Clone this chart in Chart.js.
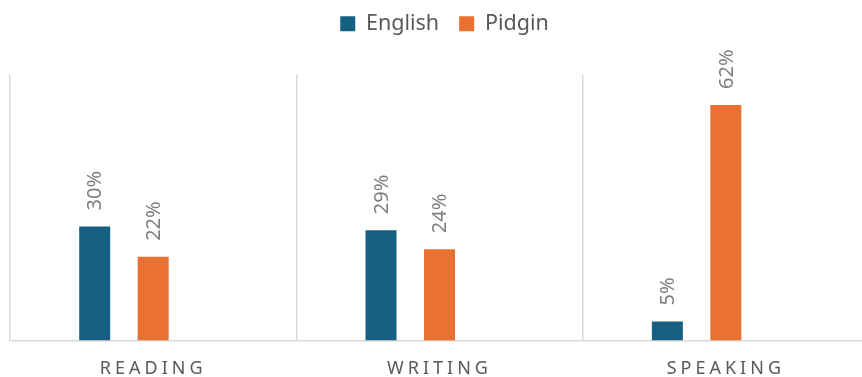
<!DOCTYPE html>
<html>
<head>
<meta charset="utf-8">
<script src="https://cdn.jsdelivr.net/npm/chart.js@4/dist/chart.umd.min.js"></script>
<style>
    html, body { margin: 0; padding: 0; background: #fff; overflow: hidden; }
    #wrap { width: 869px; height: 377px; position: relative; }
</style>
</head>
<body>
<div id="wrap"><canvas id="skillsChart"></canvas></div>
<script>
        const categories = ['READING', 'WRITING', 'SPEAKING'];
        const english = [30, 29, 5];
        const pidgin = [22, 24, 62];
        // empty third series in the source chart, keeps the bars left of centre
        const emptySeries = [null, null, null];

        const axisGray = '#595959';
        const labelGray = '#7f7f7f';
        const gridColor = '#d9d9d9';
        const fontFamily = '"Noto Sans", "Liberation Sans", sans-serif';

        // value labels rotated above the bars
        const barLabels = {
            id: 'barLabels',
            afterDatasetsDraw(chart) {
                const ctx = chart.ctx;
                chart.data.datasets.forEach((ds, di) => {
                    const meta = chart.getDatasetMeta(di);
                    meta.data.forEach((bar, i) => {
                        const v = ds.data[i];
                        if (v === null || v === undefined) return;
                        ctx.save();
                        ctx.translate(bar.x + 1, bar.y - 16);
                        ctx.rotate(-Math.PI / 2);
                        ctx.font = '20px ' + fontFamily;
                        ctx.fillStyle = labelGray;
                        ctx.textAlign = 'left';
                        ctx.textBaseline = 'middle';
                        ctx.fillText(v + '%', 0, 0);
                        ctx.restore();
                    });
                });
            }
        };

        // spaced-out category labels, legend pulled up to the top edge
        const tweaks = {
            id: 'tweaks',
            afterLayout(chart) {
                const lg = chart.legend;
                lg.top -= 30;
                lg.bottom -= 30;
                lg.left += 5;
                lg.right += 5;
                const scale = chart.scales.x;
                if (scale._spaced) return;
                const orig = scale.drawLabels;
                scale.drawLabels = function (area) {
                    this.ctx.save();
                    this.ctx.letterSpacing = '4px';
                    orig.call(this, area);
                    this.ctx.restore();
                };
                scale._spaced = true;
            }
        };

        new Chart(document.getElementById('skillsChart'), {
            type: 'bar',
            data: {
                labels: categories,
                datasets: [{
                    label: 'English',
                    data: english,
                    backgroundColor: '#156082'
                }, {
                    label: 'Pidgin',
                    data: pidgin,
                    backgroundColor: '#e97132'
                }, {
                    label: '',
                    data: emptySeries,
                    backgroundColor: 'rgba(0,0,0,0)'
                }]
            },
            options: {
                responsive: true,
                maintainAspectRatio: false,
                animation: false,
                categoryPercentage: 0.6126,
                barPercentage: 0.53,
                layout: { padding: { left: 10, right: 0, top: 23, bottom: -21 } },
                plugins: {
                    tooltip: { enabled: false },
                    legend: {
                        position: 'top',
                        labels: {
                            boxWidth: 15,
                            boxHeight: 15,
                            padding: 20,
                            color: axisGray,
                            font: { family: fontFamily, size: 21.5 },
                            filter: item => item.text !== ''
                        }
                    }
                },
                scales: {
                    x: {
                        grid: { color: gridColor, lineWidth: 1.5, drawTicks: false, offset: true },
                        border: { color: gridColor, width: 1.5 },
                        ticks: {
                            color: axisGray,
                            padding: 18,
                            maxRotation: 0,
                            autoSkip: false,
                            font: { family: fontFamily, size: 18 }
                        }
                    },
                    y: {
                        display: false,
                        min: 0,
                        max: 70
                    }
                }
            },
            plugins: [barLabels, tweaks]
        });
</script>
</body>
</html>
